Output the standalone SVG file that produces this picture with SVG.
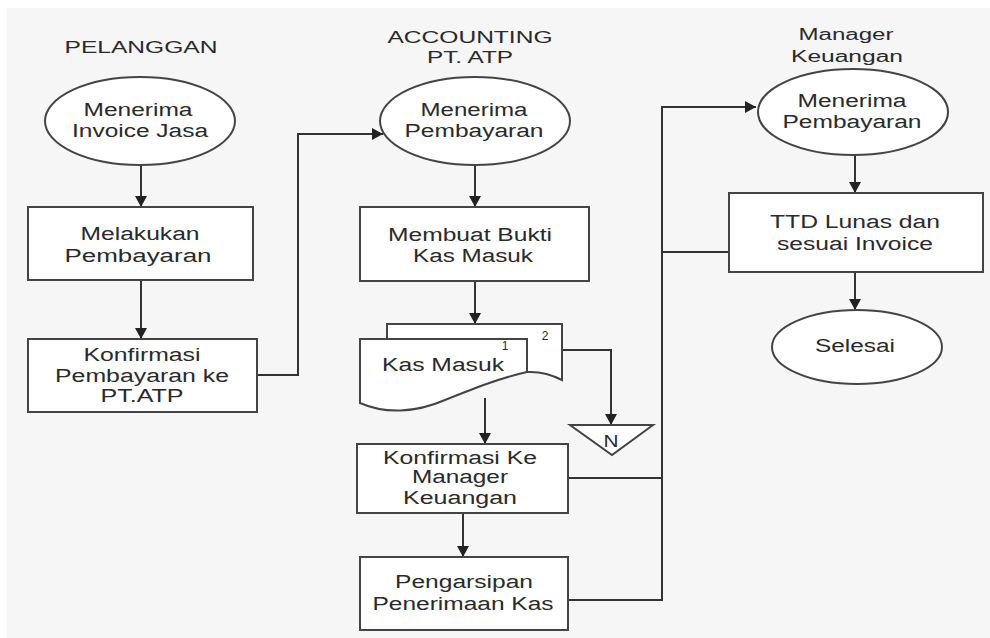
<svg xmlns="http://www.w3.org/2000/svg" width="990" height="638" viewBox="0 0 990 638">
<style>
.bg{fill:#f6f6f6}
.shape{fill:#ffffff;stroke:#444;stroke-width:2}
.line{fill:none;stroke:#333;stroke-width:2}
.t{font-family:"Liberation Sans",Arial,sans-serif;font-size:18px;fill:#2a2a2a;text-anchor:middle}
.h{font-family:"Liberation Sans",Arial,sans-serif;font-size:16px;fill:#2a2a2a;text-anchor:middle}
.s{font-family:"Liberation Sans",Arial,sans-serif;font-size:12px;fill:#2a2a2a;text-anchor:middle}
</style>
<defs>
<marker id="arr" markerUnits="userSpaceOnUse" markerWidth="12" markerHeight="12" refX="11" refY="6" orient="auto">
<path d="M0,0 L11,6 L0,12 z" fill="#222"/>
</marker>
</defs>
<rect x="0" y="0" width="990" height="638" fill="#ffffff"/>
<rect class="bg" x="7" y="8" width="983" height="630"/>

<g id="headers">
<text class="h" x="141" y="53" textLength="153" lengthAdjust="spacingAndGlyphs">PELANGGAN</text>
<text class="h" x="470" y="43" textLength="165" lengthAdjust="spacingAndGlyphs">ACCOUNTING</text>
<text class="h" x="470" y="63" textLength="86" lengthAdjust="spacingAndGlyphs">PT. ATP</text>
<text class="h" x="846" y="40" textLength="95" lengthAdjust="spacingAndGlyphs">Manager</text>
<text class="h" x="847" y="62" textLength="112" lengthAdjust="spacingAndGlyphs">Keuangan</text>
</g>

<g id="connectors">
<path class="line" d="M141,165 V207" marker-end="url(#arr)"/>
<path class="line" d="M141,280 V339" marker-end="url(#arr)"/>
<path class="line" d="M257,375 H298 V134 H383" marker-end="url(#arr)"/>
<path class="line" d="M475,165 V207" marker-end="url(#arr)"/>
<path class="line" d="M475,281 V324" marker-end="url(#arr)"/>
<path class="line" d="M562,350 H611 V425" marker-end="url(#arr)"/>
<path class="line" d="M485,398 V444" marker-end="url(#arr)"/>
<path class="line" d="M463,513 V557" marker-end="url(#arr)"/>
<path class="line" d="M568,600 H662 V107 H756" marker-end="url(#arr)"/>
<path class="line" d="M568,478 H662"/>
<path class="line" d="M729,252 H662"/>
<path class="line" d="M855,155 V193" marker-end="url(#arr)"/>
<path class="line" d="M855,272 V310" marker-end="url(#arr)"/>
</g>

<g id="n1">
<ellipse class="shape" cx="140" cy="121" rx="95" ry="44"/>
<text class="t" x="138" y="116" textLength="109" lengthAdjust="spacingAndGlyphs">Menerima</text>
<text class="t" x="140" y="137" textLength="136" lengthAdjust="spacingAndGlyphs">Invoice Jasa</text>
</g>
<g id="n2">
<rect class="shape" x="28" y="207" width="225" height="73"/>
<text class="t" x="140" y="240" textLength="119" lengthAdjust="spacingAndGlyphs">Melakukan</text>
<text class="t" x="138" y="262" textLength="147" lengthAdjust="spacingAndGlyphs">Pembayaran</text>
</g>
<g id="n3">
<rect class="shape" x="28" y="339" width="229" height="73"/>
<text class="t" x="142" y="361" textLength="117" lengthAdjust="spacingAndGlyphs">Konfirmasi</text>
<text class="t" x="142" y="382" textLength="174" lengthAdjust="spacingAndGlyphs">Pembayaran ke</text>
<text class="t" x="142" y="402" textLength="83" lengthAdjust="spacingAndGlyphs">PT.ATP</text>
</g>

<g id="n4">
<ellipse class="shape" cx="475" cy="121" rx="95" ry="44"/>
<text class="t" x="474" y="116" textLength="107" lengthAdjust="spacingAndGlyphs">Menerima</text>
<text class="t" x="474" y="137" textLength="139" lengthAdjust="spacingAndGlyphs">Pembayaran</text>
</g>
<g id="n5">
<rect class="shape" x="360" y="207" width="229" height="74"/>
<text class="t" x="470" y="241" textLength="164" lengthAdjust="spacingAndGlyphs">Membuat Bukti</text>
<text class="t" x="473" y="262" textLength="120" lengthAdjust="spacingAndGlyphs">Kas Masuk</text>
</g>
<g id="n6">
<path class="shape" d="M387,339 V324 H562 V380 Q545,371 527,372"/>
<path class="shape" d="M360,339 H527 V372 C500,378 475,388 445,400 C415,413 385,414 360,403 Z"/>
<text class="t" x="443" y="371" textLength="122" lengthAdjust="spacingAndGlyphs">Kas Masuk</text>
<text class="s" x="505" y="350">1</text>
<text class="s" x="545" y="340">2</text>
</g>
<g id="n7">
<path class="shape" d="M570,425 H653 L612,455 Z"/>
<text class="h" x="611" y="447" textLength="15" lengthAdjust="spacingAndGlyphs">N</text>
</g>
<g id="n8">
<rect class="shape" x="357" y="444" width="211" height="69"/>
<text class="t" x="460" y="464" textLength="154" lengthAdjust="spacingAndGlyphs">Konfirmasi Ke</text>
<text class="t" x="460" y="483" textLength="96" lengthAdjust="spacingAndGlyphs">Manager</text>
<text class="t" x="460" y="504" textLength="114" lengthAdjust="spacingAndGlyphs">Keuangan</text>
</g>
<g id="n9">
<rect class="shape" x="360" y="557" width="208" height="73"/>
<text class="t" x="464" y="588" textLength="138" lengthAdjust="spacingAndGlyphs">Pengarsipan</text>
<text class="t" x="463" y="610" textLength="181" lengthAdjust="spacingAndGlyphs">Penerimaan Kas</text>
</g>

<g id="n10">
<ellipse class="shape" cx="853" cy="112" rx="95" ry="43"/>
<text class="t" x="852" y="107" textLength="109" lengthAdjust="spacingAndGlyphs">Menerima</text>
<text class="t" x="852" y="128" textLength="139" lengthAdjust="spacingAndGlyphs">Pembayaran</text>
</g>
<g id="n11">
<rect class="shape" x="729" y="193" width="254" height="79"/>
<text class="t" x="855" y="228" textLength="170" lengthAdjust="spacingAndGlyphs">TTD Lunas dan</text>
<text class="t" x="855" y="250" textLength="156" lengthAdjust="spacingAndGlyphs">sesuai Invoice</text>
</g>
<g id="n12">
<ellipse class="shape" cx="857" cy="347" rx="85" ry="37"/>
<text class="t" x="855" y="352" textLength="80" lengthAdjust="spacingAndGlyphs">Selesai</text>
</g>
</svg>
